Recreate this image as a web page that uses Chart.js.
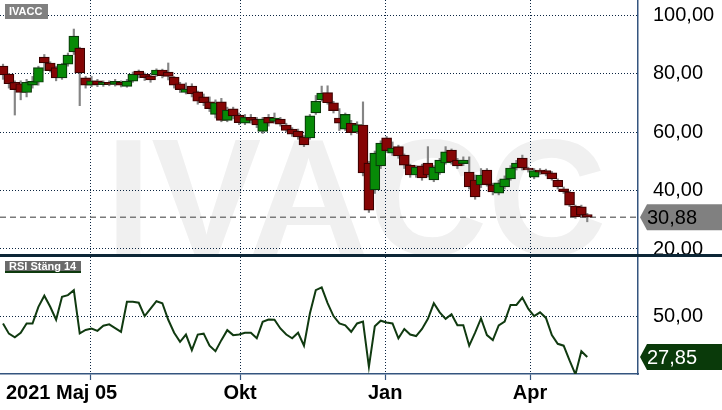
<!DOCTYPE html>
<html>
<head>
<meta charset="utf-8">
<script src="https://cdn.jsdelivr.net/npm/chart.js@4.4.1/dist/chart.umd.min.js"></script>
<style>
html, body { margin: 0; padding: 0; background: #fff; }
#ram { position: relative; width: 722px; height: 410px; overflow: hidden; }
#kurs { position: absolute; left: 0; top: 0; }
#rsi { position: absolute; left: 0; top: 257px; }
#skiljelinje { position: absolute; left: 0; top: 254px; width: 722px; height: 3px; background: #0c2636; }
</style>
</head>
<body>
<div id="ram">
  <canvas id="kurs" width="722" height="254"></canvas>
  <div id="skiljelinje"></div>
  <canvas id="rsi" width="722" height="153"></canvas>
</div>
<script>
// IVACC, dagliga staplar (ungefar varannan handelsdag), maj 2021 - maj 2022
const oppning = [
  82.5, 79.8, 77.0, 76.5, 73.5, 76.0, 77.0, 85.6, 83.6, 82.0,
  78.5, 83.2, 87.4, 88.7, 78.5, 76.0, 77.5, 76.2, 77.0, 76.3,
  77.0, 75.6, 77.4, 80.8, 79.8, 79.2, 79.5, 81.2, 80.5, 78.8,
  76.5, 73.5, 75.7, 73.7, 72.0, 70.3, 66.0, 70.3, 64.0, 67.9,
  65.8, 63.0, 65.0, 64.4, 60.2, 65.0, 63.6, 64.4, 62.4, 61.0,
  60.3, 58.3, 58.0, 66.5, 71.0, 73.5, 70.0, 64.8, 61.0, 63.0,
  60.0, 62.4, 49.4, 40.2, 48.4, 58.0, 52.8, 55.0, 52.1, 48.7,
  45.3, 48.4, 49.4, 43.6, 46.0, 49.4, 53.8, 50.4, 49.2, 46.3,
  43.6, 41.9, 47.0, 41.9, 39.1, 41.2, 44.0, 47.7, 51.1, 47.7,
  44.6, 47.0, 46.8, 46.0, 43.5, 40.6, 39.5, 34.7, 34.4, 31.8
]
const stangning = [
  79.5, 76.5, 74.5, 73.5, 77.0, 77.3, 82.0, 83.6, 81.0, 78.5,
  83.2, 86.3, 92.8, 80.2, 76.0, 77.5, 76.2, 77.0, 76.3, 77.3,
  76.0, 77.4, 79.8, 79.5, 78.6, 77.8, 81.2, 79.3, 79.0, 76.0,
  74.5, 74.7, 73.0, 70.5, 70.0, 68.0, 70.0, 64.0, 67.5, 65.5,
  63.2, 65.0, 64.0, 62.4, 64.4, 63.0, 64.8, 62.7, 60.5, 59.3,
  58.3, 55.6, 65.5, 70.5, 73.3, 70.0, 67.3, 63.0, 66.0, 59.8,
  62.5, 46.0, 33.3, 52.8, 56.2, 53.6, 54.5, 51.8, 48.7, 45.3,
  48.0, 44.3, 45.3, 48.0, 50.4, 53.2, 49.7, 48.4, 50.4, 41.2,
  37.8, 45.3, 42.0, 39.5, 42.6, 44.0, 47.7, 49.4, 47.7, 47.0,
  46.8, 46.3, 45.6, 44.0, 41.2, 39.6, 35.0, 31.0, 31.6, 30.88
]
const hogsta = [
  83.2, 80.0, 77.5, 77.5, 78.0, 79.0, 82.5, 86.5, 84.0, 82.5,
  83.5, 87.0, 95.2, 89.0, 79.0, 79.0, 78.0, 77.5, 77.5, 78.0,
  77.5, 78.0, 80.5, 81.2, 80.2, 79.6, 81.6, 81.5, 83.6, 79.0,
  77.0, 76.8, 76.5, 74.0, 73.0, 72.0, 71.0, 71.5, 68.5, 68.5,
  66.5, 66.0, 66.0, 65.0, 65.0, 66.0, 66.5, 65.0, 63.0, 61.5,
  61.0, 58.8, 66.0, 72.5, 75.7, 75.8, 70.5, 68.0, 66.5, 64.0,
  63.5, 70.3, 50.0, 53.5, 57.0, 58.5, 56.6, 55.5, 52.5, 49.0,
  48.5, 49.0, 55.0, 48.5, 51.0, 55.0, 54.2, 51.0, 51.5, 51.5,
  45.3, 47.5, 47.5, 42.5, 43.5, 45.0, 48.5, 50.3, 52.1, 48.0,
  47.5, 47.5, 47.3, 46.5, 44.0, 41.2, 39.8, 35.0, 35.0, 32.2
]
const lagsta = [
  78.0, 75.0, 65.8, 71.0, 72.0, 75.0, 76.0, 81.0, 80.5, 77.5,
  78.0, 82.5, 86.5, 69.0, 75.0, 75.5, 75.5, 75.6, 75.8, 75.7,
  75.4, 75.3, 77.0, 78.5, 77.6, 77.0, 79.0, 78.5, 77.8, 75.0,
  73.5, 73.0, 72.0, 69.5, 69.0, 67.0, 64.8, 63.5, 63.5, 64.5,
  62.5, 62.5, 63.0, 61.5, 59.5, 62.0, 63.0, 62.0, 60.0, 58.5,
  57.5, 55.0, 57.5, 66.0, 70.5, 69.5, 66.5, 60.5, 60.5, 59.0,
  59.5, 45.0, 32.5, 39.0, 47.5, 53.0, 52.0, 51.0, 47.5, 44.5,
  44.5, 43.5, 44.6, 43.0, 45.5, 49.0, 49.0, 47.5, 48.5, 40.5,
  37.0, 41.0, 41.5, 38.5, 38.5, 40.5, 43.5, 47.0, 47.0, 46.3,
  44.0, 45.5, 45.0, 43.5, 40.5, 39.0, 34.5, 30.5, 31.0, 29.3
]
// RSI (stangning, 14)
const rsiVarden = [
  46, 40.5, 38.5, 41, 46, 46, 55, 61, 55, 48,
  60.4, 61.3, 64, 40.6, 42.5, 43.3, 42, 44.8, 45.5, 43.5,
  41.5, 57.7, 57.7, 57.2, 50, 54, 58, 56.9, 48, 41,
  36.1, 40, 31.6, 40, 40.5, 34, 31, 37, 42.4, 39.7,
  40, 41, 41, 38, 46.9, 48.1, 48, 43.3, 40, 38,
  41, 34, 51.4, 64, 65.5, 57, 50, 46, 45, 41.5,
  46, 47, 22.6, 44.5, 47.5, 46.5, 46, 38, 43, 40,
  39.2, 43, 48.5, 56.9, 52, 48.5, 51, 45, 45, 34,
  41, 48.7, 39.7, 37, 45, 47, 56, 56, 60, 54,
  50, 52, 49, 39.7, 35, 34, 26, 18.5, 31, 27.85
]

// x-axel: manadsskiften i stapelindex
const manadPos = [14.75, 40.17, 64.75, 89.3]
const manadEtiketter = ['', 'Okt', 'Jan', 'Apr']
const startEtikett = '2021 Maj 05'
const kursTicks = [20, 40, 60, 80, 100]
const rsiTicks = [50]

const sistaKurs = stangning[stangning.length - 1]
const sistaRsi = rsiVarden[rsiVarden.length - 1]

const FONT = '"Liberation Sans", Arial, sans-serif'
const GRON = '#078a07', GRON_KANT = '#0a3a0a'
const ROD = '#850505', ROD_KANT = '#3c0000'
const RUTNAT = '#0b2542'
const AXEL = '#34557f'

function komma(v) {
  return v.toFixed(2).replace('.', ',')
}

const xAxel = (visaEtiketter) => ({
  type: 'linear',
  min: -0.51,
  max: 107.6,
  offset: false,
  afterBuildTicks: (s) => { s.ticks = manadPos.map(v => ({ value: v })) },
  afterFit: (s) => { s.height = visaEtiketter ? 36 : 0; s.paddingLeft = 0; s.paddingRight = 0 },
  grid: {
    offset: false,
    color: RUTNAT,
    lineWidth: 1,
    drawTicks: visaEtiketter,
    tickLength: 6,
    tickColor: AXEL,
    tickWidth: 1.2,
    tickBorderDash: []
  },
  border: { display: visaEtiketter, color: AXEL, width: 1.5, dash: [1, 2] },
  ticks: {
    display: visaEtiketter,
    autoSkip: false,
    maxRotation: 0,
    padding: 1,
    color: '#000',
    font: { family: FONT, size: 20, weight: 'bold' },
    callback: (v, i) => manadEtiketter[i]
  }
})

const yAxel = (min, max, tickLista) => ({
  position: 'right',
  min: min,
  max: max,
  afterBuildTicks: (s) => { s.ticks = tickLista.map(v => ({ value: v })) },
  afterFit: (s) => { s.width = 84; s.paddingTop = 0; s.paddingBottom = 0 },
  grid: { color: RUTNAT, lineWidth: 1, drawTicks: false },
  border: { display: true, color: AXEL, width: 1.5, dash: [1, 2] },
  ticks: {
    padding: 15,
    color: '#000',
    font: { family: FONT, size: 20 },
    callback: (v) => komma(v)
  }
})

function pilEtikett(ctx, yc, text, bakgrund, textfarg) {
  ctx.save()
  ctx.fillStyle = bakgrund
  ctx.beginPath()
  ctx.moveTo(640, yc)
  ctx.lineTo(647, yc - 13)
  ctx.lineTo(722, yc - 13)
  ctx.lineTo(722, yc + 13)
  ctx.lineTo(647, yc + 13)
  ctx.closePath()
  ctx.fill()
  ctx.fillStyle = textfarg
  ctx.font = '20px ' + FONT
  ctx.textBaseline = 'middle'
  ctx.textAlign = 'left'
  ctx.fillText(text, 647, yc + 1)
  ctx.restore()
}

const kursPlugin = {
  id: 'kursPlugin',
  beforeDraw(chart) {
    const ctx = chart.ctx, a = chart.chartArea
    ctx.save()
    ctx.beginPath()
    ctx.rect(a.left, a.top, a.right - a.left, a.bottom - a.top)
    ctx.clip()
    ctx.fillStyle = '#f0f0f0'
    ctx.font = 'bold 165px ' + FONT
    ctx.textAlign = 'center'
    ctx.textBaseline = 'alphabetic'
    ctx.fillText('IVACC', 356, 254)
    ctx.restore()
  },
  beforeDatasetsDraw(chart) {
    const ctx = chart.ctx, a = chart.chartArea
    const yp = chart.scales.y.getPixelForValue(sistaKurs)
    ctx.save()
    ctx.strokeStyle = '#7a7a7a'
    ctx.lineWidth = 1.5
    ctx.setLineDash([6, 4])
    ctx.beginPath()
    ctx.moveTo(a.left, yp)
    ctx.lineTo(a.right, yp)
    ctx.stroke()
    ctx.restore()
  },
  afterDraw(chart) {
    const ctx = chart.ctx
    ctx.save()
    ctx.fillStyle = '#808080'
    ctx.fillRect(5, 4, 43, 15)
    ctx.fillStyle = '#fff'
    ctx.font = 'bold 11px ' + FONT
    ctx.textBaseline = 'middle'
    ctx.fillText('IVACC', 9, 12)
    ctx.restore()
    pilEtikett(ctx, chart.scales.y.getPixelForValue(sistaKurs), komma(sistaKurs), '#808080', '#000')
  }
}

const rsiPlugin = {
  id: 'rsiPlugin',
  afterDraw(chart) {
    const ctx = chart.ctx
    ctx.save()
    ctx.fillStyle = '#6a6a6a'
    ctx.fillRect(5, 4, 76, 12)
    ctx.fillStyle = '#0e3a0e'
    ctx.fillRect(5, 14, 76, 2)
    ctx.fillStyle = '#fff'
    ctx.font = 'bold 11px ' + FONT
    ctx.textBaseline = 'middle'
    ctx.fillText('RSI Stäng 14', 9, 9.5)
    ctx.fillStyle = '#000'
    ctx.font = 'bold 20px ' + FONT
    ctx.textBaseline = 'alphabetic'
    ctx.fillText(startEtikett, 6, 142)
    ctx.restore()
    pilEtikett(ctx, chart.scales.y.getPixelForValue(sistaRsi), komma(sistaRsi), '#0a3a0a', '#fff')
  }
}

const kroppar = oppning.map((o, i) => ({ x: i, y: [o, stangning[i]] }))
const vekar = lagsta.map((l, i) => ({ x: i, y: [l, hogsta[i]] }))
const upp = oppning.map((o, i) => stangning[i] >= o)

new Chart(document.getElementById('kurs'), {
  type: 'bar',
  data: {
    datasets: [
      {
        data: kroppar,
        grouped: false,
        barThickness: 10,
        backgroundColor: upp.map(u => u ? GRON : ROD),
        borderColor: upp.map(u => u ? GRON_KANT : ROD_KANT),
        borderWidth: 1.2,
        borderSkipped: false
      },
      {
        data: vekar,
        grouped: false,
        barThickness: 1.5,
        backgroundColor: '#858585',
        borderWidth: 0
      }
    ]
  },
  options: {
    responsive: false,
    animation: false,
    layout: { padding: 0 },
    plugins: { legend: { display: false }, tooltip: { enabled: false } },
    scales: {
      x: xAxel(false),
      y: yAxel(18.29, 105.13, kursTicks)
    }
  },
  plugins: [kursPlugin]
})

new Chart(document.getElementById('rsi'), {
  type: 'line',
  data: {
    datasets: [{
      data: rsiVarden.map((v, i) => ({ x: i, y: v })),
      borderColor: '#103a10',
      borderWidth: 2,
      pointRadius: 0,
      tension: 0
    }]
  },
  options: {
    responsive: false,
    animation: false,
    layout: { padding: 0 },
    plugins: { legend: { display: false }, tooltip: { enabled: false } },
    scales: {
      x: xAxel(true),
      y: yAxel(18.7, 81.9, rsiTicks)
    }
  },
  plugins: [rsiPlugin]
})
</script>
</body>
</html>
